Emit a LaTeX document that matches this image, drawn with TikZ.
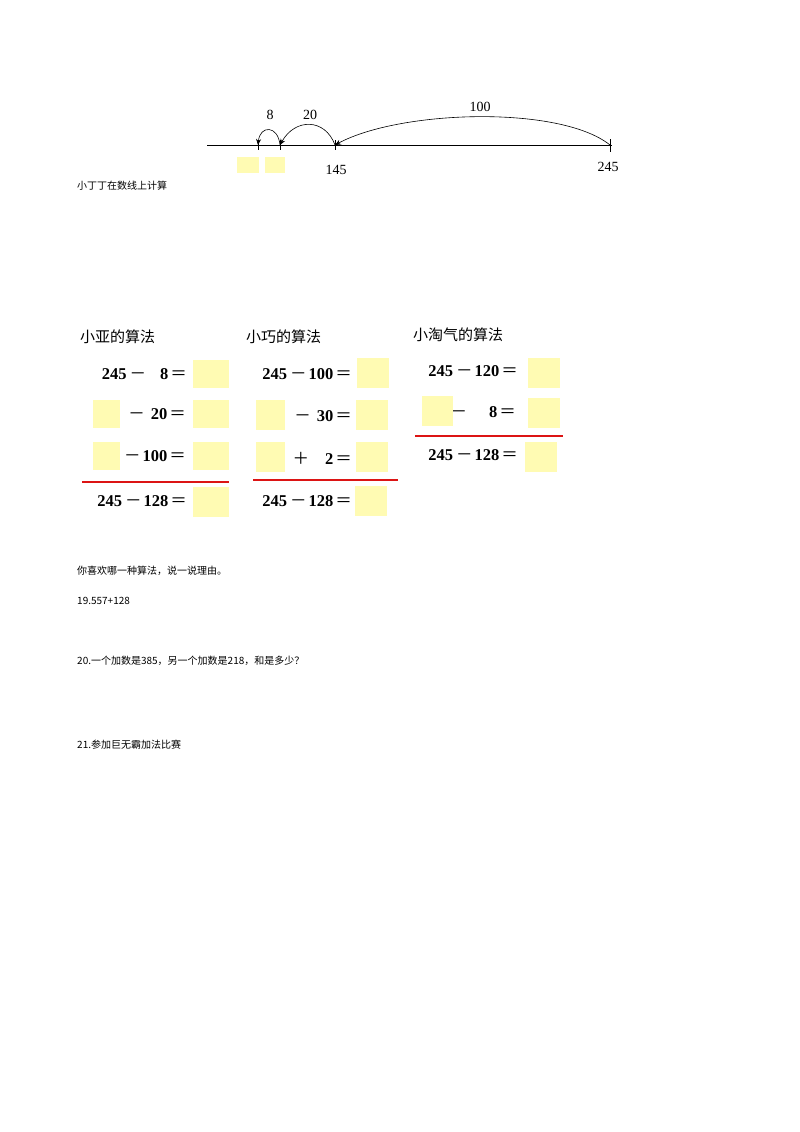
\documentclass[tikz,border=0pt]{standalone}
\usepackage{fontspec}
\setmainfont{Liberation Serif}
\newfontfamily\cjk{Noto Sans CJK SC}
\newcommand{\Mi}{\hspace{3pt}{\cjk\mdseries －}\hspace{2pt}}
\newcommand{\Eq}{\hspace{2pt}{\cjk\mdseries ＝}}
\newcommand{\Pl}{{\cjk\mdseries ＋}}
\usetikzlibrary{arrows.meta}
\begin{document}
\begin{tikzpicture}[x=1pt,y=-1pt,
  yb/.style={fill=yellow!30,draw=none},
  txt/.style={anchor=west,inner sep=0pt,font=\cjk\fontsize{10}{12}\selectfont},
  eq/.style={anchor=east,inner sep=0pt,font=\bfseries\fontsize{16.5}{18}\selectfont},
  hd/.style={anchor=west,inner sep=0pt,font=\cjk\fontsize{15}{17}\selectfont},
  nl/.style={inner sep=0pt,font=\fontsize{14}{16}\selectfont},
  arc/.style={-{Stealth[length=6pt,width=5pt]},semithick},
  red/.style={draw={rgb,255:red,220;green,20;blue,20},line width=1.3pt}]
\useasboundingbox (0,0) rectangle (800,1132);
% number line
\coordinate (L) at (207,145); \coordinate (R) at (612,145);
\draw[thick] (L) -- (R);
\coordinate (a) at (258,145); \coordinate (b) at (280,145); \coordinate (c) at (335,145); \coordinate (d) at (610,145);
\draw[thick] (258,140) -- (258,150) (280,140) -- (280,150) (335,140) -- (335,150) (610,139) -- (610,152);
\draw[arc] (d) .. controls (560,105) and (400,110) .. (c);
\draw[arc] (c) .. controls (325,118) and (295,118) .. (b);
\draw[arc] (b) .. controls (278,125) and (260,125) .. (a);
\node[nl] (n8) at (270,115) {8};
\node[nl] (n20) at (310,115) {20};
\node[nl] (n100) at (480,107) {100};
\node[nl] (n145) at (336,170) {145};
\node[nl] (n245) at (608,167) {245};
\fill[yb] (237,157) rectangle (259,173);
\fill[yb] (265,157) rectangle (285,173);
\node[txt] (t1) at (77,186) {小丁丁在数线上计算};
% headings
\node[hd] (h1) at (80,337) {小亚的算法};
\node[hd] (h2) at (246,337) {小巧的算法};
\node[hd] (h3) at (413,335) {小淘气的算法};
% column 1
\node[eq] (e11) at (187,374) {245\Mi\hspace{12pt}8\Eq};
\node[eq] (e12) at (186,414) {\Mi\hspace{4pt}20\Eq};
\node[eq] (e13) at (186,456) {\Mi100\Eq};
\node[eq] (e14) at (187,501) {245\Mi128\Eq};
\fill[yb] (193,360) rectangle (229,388);
\fill[yb] (193,400) rectangle (229,428);
\fill[yb] (193,442) rectangle (229,470);
\fill[yb] (193,487) rectangle (229,517);
\fill[yb] (93,400) rectangle (120,428);
\fill[yb] (93,442) rectangle (120,470);
\draw[red] (82,482) -- (229,482);
% column 2
\node[eq] (e21) at (352,374) {245\Mi100\Eq};
\node[eq] (e22) at (352,416) {\Mi\hspace{4pt}30\Eq};
\node[eq] (e23) at (352,458) {\Pl\hspace{16pt}2\Eq};
\node[eq] (e24) at (352,501) {245\Mi128\Eq};
\fill[yb] (357,358) rectangle (389,388);
\fill[yb] (356,400) rectangle (388,430);
\fill[yb] (356,442) rectangle (388,472);
\fill[yb] (355,486) rectangle (387,516);
\fill[yb] (256,400) rectangle (285,430);
\fill[yb] (256,442) rectangle (285,472);
\draw[red] (253,480) -- (398,480);
% column 3
\node[eq] (e31) at (518,371) {245\Mi120\Eq};
\node[eq] (e32) at (516,412) {\Mi\hspace{20pt}8\Eq};
\node[eq] (e34) at (518,455) {245\Mi128\Eq};
\fill[yb] (528,358) rectangle (560,388);
\fill[yb] (528,398) rectangle (560,428);
\fill[yb] (525,442) rectangle (557,472);
\fill[yb] (422,396) rectangle (453,426);
\draw[red] (415,436) -- (563,436);
% texts
\node[txt] (t2) at (77,571) {你喜欢哪一种算法，说一说理由。};
\node[txt] (t3) at (77,601) {19.557+128};
\node[txt] (t4) at (77,661) {20.一个加数是385，另一个加数是218，和是多少？};
\node[txt] (t5) at (77,745) {21.参加巨无霸加法比赛};
\end{tikzpicture}
\end{document}
